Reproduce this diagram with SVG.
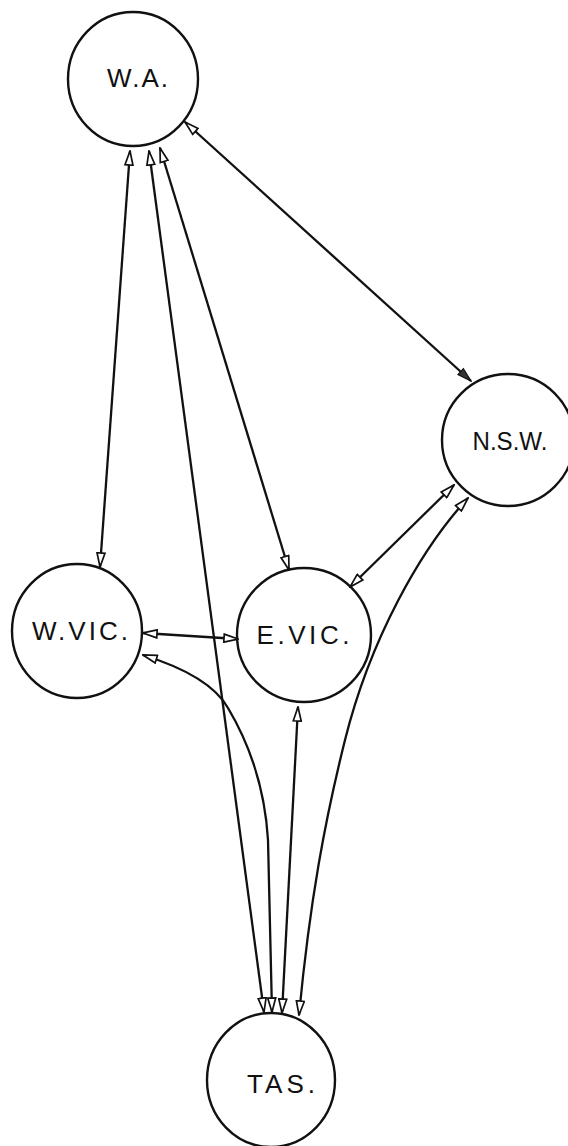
<svg xmlns="http://www.w3.org/2000/svg" width="568" height="1146" viewBox="0 0 568 1146">
<style>
.node{fill:none;stroke:#111;stroke-width:2.4}
.lbl{font-family:"Liberation Sans",Arial,sans-serif;font-size:26px;fill:#111;text-anchor:middle}
.edge{fill:none;stroke:#111;stroke-width:2.3}
</style>
<defs>
<marker id="h" viewBox="0 0 16 10" refX="15" refY="5" markerWidth="16" markerHeight="10" markerUnits="userSpaceOnUse" orient="auto-start-reverse">
<path d="M1,1 L15,5 L1,9 Z" fill="#fff" stroke="#111" stroke-width="1.7"/>
</marker>
<marker id="f" viewBox="0 0 16 10" refX="15" refY="5" markerWidth="16" markerHeight="10" markerUnits="userSpaceOnUse" orient="auto-start-reverse">
<path d="M1,1 L15,5 L1,9 Z" fill="#333" stroke="#111" stroke-width="1.2"/>
</marker>
</defs>
<rect width="568" height="1146" fill="#fff"/>
<g id="connectors">
<path class="edge" d="M130,151 L100,567" marker-start="url(#h)" marker-end="url(#h)"/>
<path class="edge" d="M149,151 L264,1012" marker-start="url(#h)" marker-end="url(#h)"/>
<path class="edge" d="M160,148 L289,570" marker-start="url(#h)" marker-end="url(#h)"/>
<path class="edge" d="M185,122 L471,381" marker-start="url(#h)" marker-end="url(#f)"/>
<path class="edge" d="M143,633 L238,639" marker-start="url(#h)" marker-end="url(#h)"/>
<path class="edge" d="M350,587 L454,485" marker-start="url(#h)" marker-end="url(#h)"/>
<path class="edge" d="M143,655 C185,668 215,685 228,708 C250,745 265,790 268,840 L272,1012" marker-start="url(#h)" marker-end="url(#h)"/>
<path class="edge" d="M298,707 L282,1013" marker-start="url(#h)" marker-end="url(#h)"/>
<path class="edge" d="M468,498 C420,550 370,640 345,740 C325,820 310,900 299,1015" marker-start="url(#h)" marker-end="url(#h)"/>
</g>
<g id="WA">
<ellipse class="node" cx="133" cy="79" rx="65" ry="67"/>
<text class="lbl" x="137.5" y="87" textLength="61" lengthAdjust="spacing">W.A.</text>
</g>
<g id="NSW">
<circle class="node" cx="508" cy="440" r="66"/>
<text class="lbl" x="510" y="450" textLength="75" lengthAdjust="spacingAndGlyphs">N.S.W.</text>
</g>
<g id="WVIC">
<ellipse class="node" cx="77" cy="631" rx="65" ry="67"/>
<text class="lbl" x="80" y="640" textLength="96" lengthAdjust="spacing">W.VIC.</text>
</g>
<g id="EVIC">
<circle class="node" cx="304" cy="635" r="67"/>
<text class="lbl" x="303" y="644" textLength="93" lengthAdjust="spacing">E.VIC.</text>
</g>
<g id="TAS">
<ellipse class="node" cx="271" cy="1080" rx="64" ry="67"/>
<text class="lbl" x="281" y="1093" textLength="68" lengthAdjust="spacing">TAS.</text>
</g>
</svg>
